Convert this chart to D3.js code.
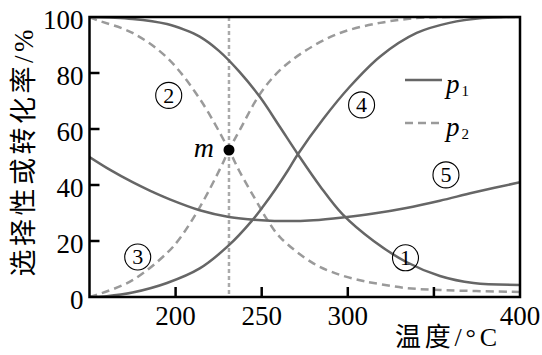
<!DOCTYPE html>
<html>
<head>
<meta charset="utf-8">
<script src="https://cdn.jsdelivr.net/npm/d3@7"></script>
<style>
  html, body { margin: 0; padding: 0; background: #fff; }
  svg { display: block; }
</style>
</head>
<body>
<svg id="chart" width="542" height="355"></svg>
<script>
// Temperature (°C) and value (%) samples for each curve
const c1Temp = [150, 175, 195, 205, 214, 225, 237, 249, 260.6, 271, 284, 297, 315, 334, 353.5, 373, 400];
const c1Val  = [100, 99.3, 97.5, 95.5, 93, 88, 80.5, 71.4, 60.7, 51, 39.5, 29.5, 20, 12.5, 7.5, 5, 4.3];

const c4Temp = [150, 160, 175, 195, 214, 231, 244, 251, 258, 265, 271, 285.6, 301, 319, 340, 359, 378, 400];
const c4Val  = [0, 0.3, 1.6, 5, 10.2, 18.5, 27, 32.5, 38.5, 45, 51, 63.5, 75, 86, 94.3, 97.9, 99.6, 100];

const c2Temp = [150, 154, 175, 195, 214, 231, 237, 249, 253, 260.6, 280, 295.5, 307, 315, 334, 353.5, 400];
const c2Val  = [100, 99, 94.3, 85.5, 70.8, 52.5, 45, 32, 27.8, 21.4, 12, 7.9, 6, 5, 3.2, 2.5, 1.8];

const c3Temp = [150, 154, 175, 195, 202.5, 214, 226, 231, 237.4, 249, 260.6, 276, 295.5, 318.7, 340, 360, 400];
const c3Val  = [0, 0.7, 6, 15.7, 21, 32, 46, 52.5, 59.8, 72.5, 81, 88.2, 94.3, 97.9, 99.6, 100, 100];

const c5Temp = [150, 162, 175, 185, 197, 214, 231, 250, 265, 280, 297, 315, 334, 353.5, 373, 400];
const c5Val  = [50, 45.4, 41, 38, 34.8, 31, 28.6, 27.4, 27.1, 27.4, 28.4, 29.8, 31.8, 34.4, 37.3, 41];

// Intersection point m of the two dashed curves
const mTemp = 231;
const mVal = 52.5;

// Axis ticks and labels
const xTicks = [200, 250, 300, 350];
const xTickLabels = [200, 250, 300, 400];
const yTicks = [20, 40, 60, 80];
const yTickLabels = [0, 20, 40, 60, 80, 100];

// Circled curve labels
const curveLabels = ["1", "2", "3", "4", "5"];
const curveLabelTemp = [333.5, 196, 178, 308, 357];
const curveLabelVal  = [14, 72, 14.3, 68.6, 43.6];

const svg = d3.select("#chart");
const plotLeft = 89.5, plotRight = 520, plotTop = 17, plotBottom = 297;

const x = d3.scaleLinear().domain([150, 400]).range([plotLeft, plotRight]);
const y = d3.scaleLinear().domain([0, 100]).range([plotBottom, plotTop]);

const solidColor = "#666";
const dashColor = "#9a9a9a";
const serif = "'Liberation Serif', 'Times New Roman', serif";
const cjk = "'Noto Sans CJK SC', sans-serif";

svg.append("clipPath").attr("id", "plotClip")
  .append("rect").attr("x", plotLeft).attr("y", plotTop)
  .attr("width", plotRight - plotLeft).attr("height", plotBottom - plotTop);

const plot = svg.append("g").attr("clip-path", "url(#plotClip)");

const line = d3.line()
  .x(d => x(d[0])).y(d => y(d[1]))
  .curve(d3.curveCatmullRom.alpha(0.5));

function series(temps, vals) { return temps.map((t, i) => [t, vals[i]]); }

// Reference line at the temperature of m
plot.append("line")
  .attr("x1", x(mTemp)).attr("x2", x(mTemp))
  .attr("y1", y(100)).attr("y2", y(0))
  .attr("stroke", "#aaa").attr("stroke-width", 2.5)
  .attr("stroke-dasharray", "4,3");

// p2 curves (dashed)
[[c2Temp, c2Val], [c3Temp, c3Val]].forEach(([t, v]) => {
  plot.append("path").attr("d", line(series(t, v)))
    .attr("fill", "none").attr("stroke", dashColor)
    .attr("stroke-width", 2.5).attr("stroke-dasharray", "8,5");
});

// p1 curves (solid)
[[c1Temp, c1Val], [c4Temp, c4Val], [c5Temp, c5Val]].forEach(([t, v]) => {
  plot.append("path").attr("d", line(series(t, v)))
    .attr("fill", "none").attr("stroke", solidColor)
    .attr("stroke-width", 2.5);
});

// Point m
svg.append("circle").attr("cx", x(mTemp)).attr("cy", y(mVal)).attr("r", 5.5).attr("fill", "#000");
svg.append("text").attr("x", x(mTemp) - 15).attr("y", y(mVal) + 7)
  .attr("text-anchor", "end").attr("font-family", serif)
  .attr("font-style", "italic").attr("font-size", 28).text("m");

// Frame
svg.append("rect").attr("x", plotLeft).attr("y", plotTop)
  .attr("width", plotRight - plotLeft).attr("height", plotBottom - plotTop)
  .attr("fill", "none").attr("stroke", "#000").attr("stroke-width", 2.5);

// Inward ticks
svg.selectAll(".xt").data(xTicks).enter().append("line")
  .attr("x1", d => x(d)).attr("x2", d => x(d))
  .attr("y1", plotBottom).attr("y2", plotBottom - 10)
  .attr("stroke", "#000").attr("stroke-width", 2.5);
svg.selectAll(".yt").data(yTicks).enter().append("line")
  .attr("x1", plotLeft).attr("x2", plotLeft + 10)
  .attr("y1", d => y(d)).attr("y2", d => y(d))
  .attr("stroke", "#000").attr("stroke-width", 2.5);

// Tick labels
svg.selectAll(".xl").data(xTickLabels).enter().append("text")
  .attr("x", d => x(d)).attr("y", plotBottom + 28)
  .attr("text-anchor", "middle").attr("font-family", serif)
  .attr("font-size", 27).attr("fill", "#000").text(d => d);
svg.selectAll(".yl").data(yTickLabels).enter().append("text")
  .attr("x", plotLeft - 6).attr("y", d => y(d) + 12)
  .attr("text-anchor", "end").attr("font-family", serif)
  .attr("font-size", 27).attr("fill", "#000").text(d => d);

// Axis titles
const yTitle = svg.append("text")
  .attr("transform", "translate(33,153) rotate(-90)")
  .attr("text-anchor", "middle").attr("font-size", 27)
  .attr("textLength", 247).attr("lengthAdjust", "spacing");
yTitle.append("tspan").attr("font-family", cjk).text("选择性或转化率");
yTitle.append("tspan").attr("font-family", serif).text("/%");

const xTitle = svg.append("text")
  .attr("x", 446).attr("y", 346)
  .attr("text-anchor", "middle").attr("font-size", 26)
  .attr("textLength", 102).attr("lengthAdjust", "spacing");
xTitle.append("tspan").attr("font-family", cjk).text("温度");
xTitle.append("tspan").attr("font-family", serif).text("/°C");

// Circled labels
const cl = svg.selectAll(".cl").data(curveLabels).enter().append("g")
  .attr("transform", (d, i) => `translate(${x(curveLabelTemp[i])},${y(curveLabelVal[i])})`);
cl.append("circle").attr("r", 13).attr("fill", "none")
  .attr("stroke", "#000").attr("stroke-width", 1.1);
cl.append("text").attr("y", 7.5).attr("text-anchor", "middle")
  .attr("font-family", serif).attr("font-size", 22).text(d => d);

// Legend
const legend = svg.append("g");
const legendItems = [
  { sub: "1", dash: null, color: solidColor, ly: 80 },
  { sub: "2", dash: "8,5", color: dashColor, ly: 123 }
];
legendItems.forEach(it => {
  legend.append("line").attr("x1", 405).attr("x2", 442)
    .attr("y1", it.ly).attr("y2", it.ly)
    .attr("stroke", it.color).attr("stroke-width", 2.5)
    .attr("stroke-dasharray", it.dash);
  const t = legend.append("text").attr("x", 446).attr("y", it.ly + 13)
    .attr("font-family", serif).attr("font-size", 27);
  t.append("tspan").attr("font-style", "italic").text("p");
  t.append("tspan").attr("font-size", 15).attr("dx", 2).attr("dy", 3).text(it.sub);
});
</script>
</body>
</html>
